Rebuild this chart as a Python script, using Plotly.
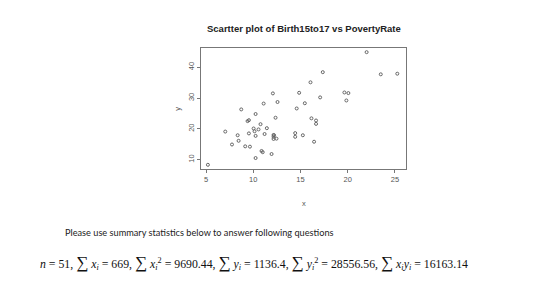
import plotly.graph_objects as go

# Data (PovertyRate vs Birth15to17)
x_vals = [5.2, 7.04, 7.75, 8.35, 8.45, 8.73, 9.15, 9.4, 9.54, 9.54, 9.65, 10.04, 10.14,
          10.25, 10.25, 10.25, 10.56, 10.77, 10.88, 11.0, 11.1, 11.2, 11.44, 11.94, 12.08,
          12.15, 12.15, 12.15, 12.2, 12.36, 12.46, 12.57, 14.44, 14.44, 14.6, 14.86, 15.25,
          15.46, 16.06, 16.16, 16.44, 16.65, 16.65, 17.08, 17.36, 19.65, 19.86, 20.07, 22.0,
          23.5, 25.25]
y_vals = [8.3, 19.1, 14.9, 17.9, 16.1, 26.3, 14.3, 22.5, 22.8, 18.5, 14.2, 20.1, 19.2,
          24.8, 17.7, 10.5, 19.8, 21.5, 12.8, 12.4, 28.2, 18.3, 20.2, 11.8, 31.5,
          18.0, 17.4, 16.7, 17.9, 23.6, 16.8, 28.7, 18.6, 17.4, 26.6, 31.7, 17.9,
          28.3, 35.1, 23.4, 15.8, 22.7, 21.6, 30.2, 38.4, 31.8, 29.2, 31.6, 44.9,
          37.7, 37.9]
x_ticks = [5, 10, 15, 20, 25]
y_ticks = [10, 20, 30, 40]

title_text = "Scartter plot of Birth15to17 vs PovertyRate"
note_text = "Please use summary statistics below to answer following questions"
S = "<span style='font-size:17px'>∑</span>"
formula_text = (
    "<i>n</i> = 51, " + S + " <i>x<sub>i</sub></i> = 669, "
    + S + " <i>x<sub>i</sub></i><sup>2</sup> = 9690.44, "
    + S + " <i>y<sub>i</sub></i> = 1136.4, "
    + S + " <i>y<sub>i</sub></i><sup>2</sup> = 28556.56, "
    + S + " <i>x<sub>i</sub>y<sub>i</sub></i> = 16163.14"
)

fig = go.Figure()
fig.add_trace(go.Scatter(
    x=x_vals, y=y_vals, mode="markers",
    marker=dict(symbol="circle-open", size=3, color="#666666", line=dict(width=1)),
    hoverinfo="skip", showlegend=False,
))

axis_common = dict(
    showgrid=False, zeroline=False, showline=True, mirror=True,
    linecolor="#777777", linewidth=1, ticks="outside", ticklen=3,
    tickcolor="#777777", tickfont=dict(family="Liberation Sans", size=7.5, color="#555555"),
)

fig.update_layout(
    width=560, height=285,
    margin=dict(l=201, r=154, t=48, b=116),
    paper_bgcolor="white", plot_bgcolor="white",
    xaxis=dict(range=[4.47, 26.17], tickvals=x_ticks, **axis_common),
    yaxis=dict(range=[6.94, 46.25], tickvals=y_ticks, tickangle=-90, **axis_common),
    annotations=[
        dict(text="<b>" + title_text + "</b>", xref="paper", yref="paper",
             x=0.5, y=(48 - 29) / 120.7 + 1, xanchor="center", yanchor="middle",
             showarrow=False, font=dict(family="Liberation Sans", size=9.5, color="#222222")),
        dict(text="x", xref="paper", yref="paper", x=0.5, y=(168.7 - 203) / 120.7,
             xanchor="center", yanchor="middle", showarrow=False,
             font=dict(family="Liberation Sans", size=7.5, color="#555555")),
        dict(text="y", xref="paper", yref="paper", x=(177 - 200.7) / 205.3, y=0.5,
             xanchor="center", yanchor="middle", textangle=-90, showarrow=False,
             font=dict(family="Liberation Sans", size=7.5, color="#555555")),
        dict(text=note_text, xref="paper", yref="paper", x=(62 - 200.7) / 205.3,
             y=(168.7 - 232) / 120.7, xanchor="left", yanchor="middle", showarrow=False,
             font=dict(family="Lato", size=9.2, color="#222222")),
        dict(text=formula_text, xref="paper", yref="paper", x=(37 - 200.7) / 205.3,
             y=(168.7 - 262) / 120.7, xanchor="left", yanchor="middle", showarrow=False,
             font=dict(family="Liberation Serif", size=11.8, color="#111111")),
    ],
)

fig.write_html("out.html")
